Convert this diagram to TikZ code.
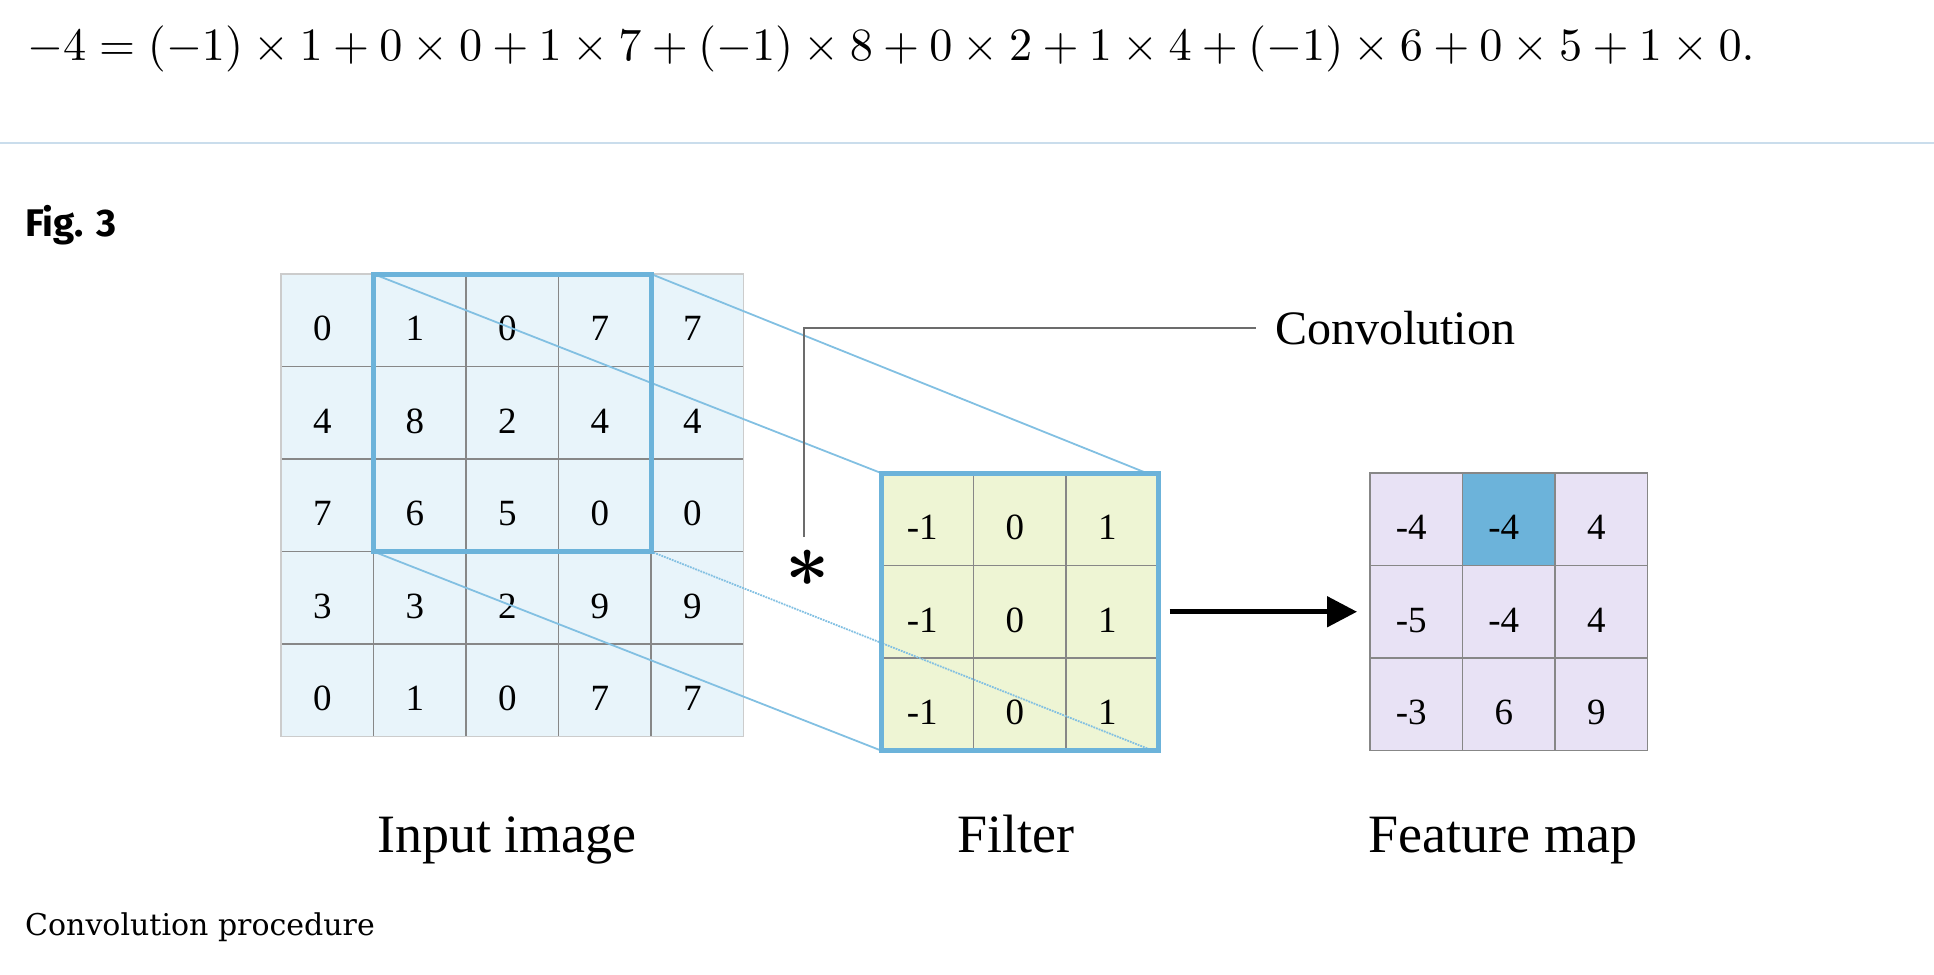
\documentclass[tikz,border=0pt]{standalone}
\usepackage{fontspec}
\setmainfont{Liberation Serif}
\newfontfamily\figfont{Fira Sans}
\newfontfamily\capfont{DejaVu Serif}
\usetikzlibrary{arrows.meta}

\definecolor{inblue}{RGB}{232,244,250}
\definecolor{edgeblue}{RGB}{108,179,218}
\definecolor{linkblue}{RGB}{130,192,226}
\definecolor{filtgreen}{RGB}{238,245,212}
\definecolor{featlilac}{RGB}{232,226,245}
\definecolor{gridgray}{RGB}{135,135,135}
\definecolor{rulecol}{RGB}{202,221,236}

\tikzset{
  cell/.style={draw=gridgray, line width=1.5pt, minimum size=92.5pt, inner sep=0pt,
    outer sep=0pt, font=\fontsize{37}{40}\selectfont, text height=41pt, text depth=0pt,
    execute at begin node=\hspace*{-10pt}},
  frame/.style={draw=edgeblue, line width=5pt},
  link/.style={linkblue, line width=1.8pt},
  lbl/.style={anchor=base, inner sep=0pt, font=\fontsize{54}{60}\selectfont},
}

\begin{document}
\begin{tikzpicture}[x=1pt,y=-1pt]
  \useasboundingbox (0,0) rectangle (1934,974);

  % text above the figure
  \node[anchor=west, inner sep=0pt] (eq) at (27,49)
    {\resizebox{1727pt}{!}{$-4=(-1)\times 1+0\times 0+1\times 7+(-1)\times 8+0\times 2+1\times 4+(-1)\times 6+0\times 5+1\times 0.$}};
  \draw[rulecol, line width=2.5pt] (0,143) -- (1934,143);
  \node[anchor=base west, inner sep=0pt, font=\figfont\fontsize{38.5}{42}\selectfont\bfseries] (fig) at (25,236) {Fig. 3};

  % input image
  \foreach \row [count=\r from 0] in {{0,1,0,7,7},{4,8,2,4,4},{7,6,5,0,0},{3,3,2,9,9},{0,1,0,7,7}}
    \foreach \v [count=\c from 0] in \row
      \node[cell, fill=inblue] (in-\r-\c) at ({327.25+92.5*\c},{320.25+92.5*\r}) {\v};
  \draw[gray!40, line width=1.5pt] (in-0-0.north west) rectangle (in-4-4.south east);

  % filter
  \foreach \r in {0,1,2}
    \foreach \v [count=\c from 0] in {-1,0,1}
      \node[cell, fill=filtgreen] (filt-\r-\c) at ({927.25+92.5*\c},{519.25+92.5*\r}) {\v};

  % feature map
  \foreach \row [count=\r from 0] in {{-4,-4,4},{-5,-4,4},{-3,6,9}}
    \foreach \v [count=\c from 0] in \row
      \node[cell, fill=featlilac] (feat-\r-\c) at ({1416.25+92.5*\c},{519.25+92.5*\r}) {\v};
  \node[cell, fill=edgeblue] at (feat-0-1) {-4};

  % projection of the window
  \draw[link] (in-0-1.north west) -- (filt-0-0.north west);
  \draw[link] (in-0-3.north east) -- ([xshift=-12pt]filt-0-2.north east);
  \draw[link] (in-2-1.south west) -- (filt-2-0.south west);
  \draw[link, densely dotted] (in-2-3.south east) -- ([xshift=-6pt]filt-2-2.south east);
  \draw[frame] (in-0-1.north west) rectangle (in-2-3.south east);
  \draw[frame] (filt-0-0.north west) rectangle (filt-2-2.south east);

  % convolution mark
  \node[inner sep=0pt] (star) at (808,568) {\scalebox{7.7}{\boldmath$\ast$}};
  \node[anchor=base west, inner sep=0pt, font=\fontsize{48}{54}\selectfont] (conv) at (1275,344) {Convolution};
  \coordinate (brk) at (804,537);
  \draw[gridgray!80!black, line width=2pt] (brk) |- ([xshift=-19pt]conv.west);

  \draw[line width=5pt, -{Triangle[length=30pt,width=30pt]}]
    ([xshift=11pt]filt-1-2.east) -- ([xshift=-13pt]feat-1-0.west);

  % labels
  \node[lbl] (inlbl) at (507,852) {Input image};
  \node[lbl] (filtlbl) at (1016,852) {Filter};
  \node[lbl] (featlbl) at (1503,852) {Feature map};

  \node[anchor=base west, inner sep=0pt, font=\capfont\fontsize{30}{36}\selectfont] (cap) at (25,935) {Convolution procedure};
\end{tikzpicture}
\end{document}
